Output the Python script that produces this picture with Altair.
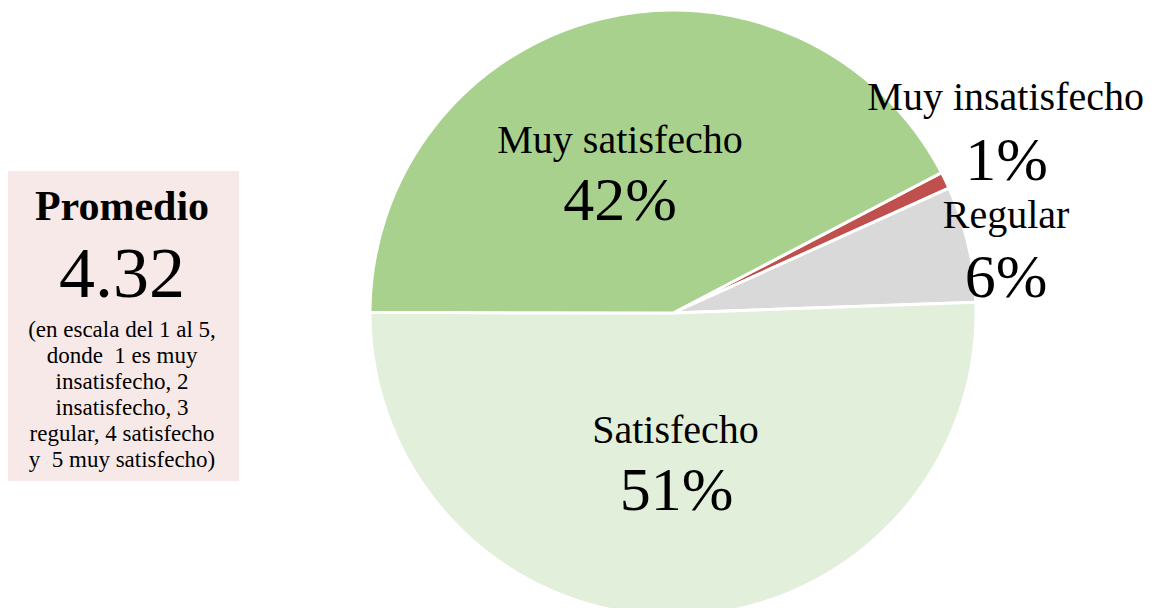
import math
import altair as alt
import pandas as pd

# ---- data ----
categories = ["Muy insatisfecho", "Regular", "Satisfecho", "Muy satisfecho"]
values = [0.9, 6.2, 50.6, 42.3]
pct_labels = ["1%", "6%", "51%", "42%"]
colors = ["#C0504D", "#D9D9D9", "#E2EFDA", "#A9D18E"]

box_title = "Promedio"
box_value = "4.32"
box_note = [
    "(en escala del 1 al 5,",
    "donde \u00a01 es muy",
    "insatisfecho, 2",
    "insatisfecho, 3",
    "regular, 4 satisfecho",
    "y \u00a05 muy satisfecho)",
]

FONT = "Liberation Serif"

df = pd.DataFrame({
    "category": categories,
    "value": values,
    "pct": pct_labels,
    "order": list(range(len(categories))),
})

start = math.radians(62.4)
theta_scale = alt.Scale(domain=[0, 100], range=[start, start + 2 * math.pi])
CX, CY = 665, 305
R = 303

base = alt.Chart(df)

pie = base.mark_arc(outerRadius=R, stroke="white", strokeWidth=3).encode(
    theta=alt.Theta("value:Q", stack=True, scale=theta_scale),
    color=alt.Color("category:N", scale=alt.Scale(domain=categories, range=colors), legend=None),
    order=alt.Order("order:Q"),
    x=alt.value(CX),
    y=alt.value(CY),
)

mid_base = base.transform_window(
    cum="sum(value)", sort=[alt.SortField("order")], frame=[None, 0]
).transform_calculate(mid="datum.cum - datum.value / 2")

# label styling offsets: radius, (name dx, dy), (pct dx, dy)
label_style = {
    "Muy insatisfecho": (310, (54, -67), (55, 3)),
    "Regular": (300, (41, -16.5), (41, 52.5)),
    "Satisfecho": (150, (0, -20), (1, 47)),
    "Muy satisfecho": (170, (-12.6, 5), (-12.6, 72)),
}

layers = [pie]
for cat in categories:
    r, (ndx, ndy), (pdx, pdy) = label_style[cat]
    sub = mid_base.transform_filter(alt.datum.category == cat)
    enc = dict(
        theta=alt.Theta("mid:Q", stack=None, scale=theta_scale),
        x=alt.value(CX),
        y=alt.value(CY),
    )
    layers.append(
        sub.mark_text(radius=r, dx=ndx, dy=ndy, font=FONT, fontSize=40,
                      baseline="alphabetic", align="center", color="black")
        .encode(text="category:N", **enc)
    )
    layers.append(
        sub.mark_text(radius=r, dx=pdx, dy=pdy, font=FONT, fontSize=62,
                      baseline="alphabetic", align="center", color="black")
        .encode(text="pct:N", **enc)
    )

ann = alt.Chart(pd.DataFrame({"k": [0]}))
box = ann.mark_rect(color="#F8E9E9").encode(
    x=alt.value(-3), x2=alt.value(231), y=alt.value(163), y2=alt.value(473)
)
t_title = ann.mark_text(text=box_title, font=FONT, fontSize=42, fontWeight="bold",
                        baseline="alphabetic", align="center", color="black").encode(
    x=alt.value(114), y=alt.value(212))
t_value = ann.mark_text(text=box_value, font=FONT, fontSize=72,
                        baseline="alphabetic", align="center", color="black").encode(
    x=alt.value(114), y=alt.value(289))
t_note = ann.mark_text(text=box_note, font=FONT, fontSize=23, lineHeight=26,
                       baseline="alphabetic", align="center", color="black").encode(
    x=alt.value(114), y=alt.value(329))

layers += [box, t_title, t_value, t_note]

chart = alt.layer(*layers).properties(
    width=1136, height=600,
    autosize=alt.AutoSizeParams(type="none"),
    padding=0,
    background="white",
).configure_view(stroke=None)

chart.save("out.html", embed_options={"renderer": "svg", "actions": False})
